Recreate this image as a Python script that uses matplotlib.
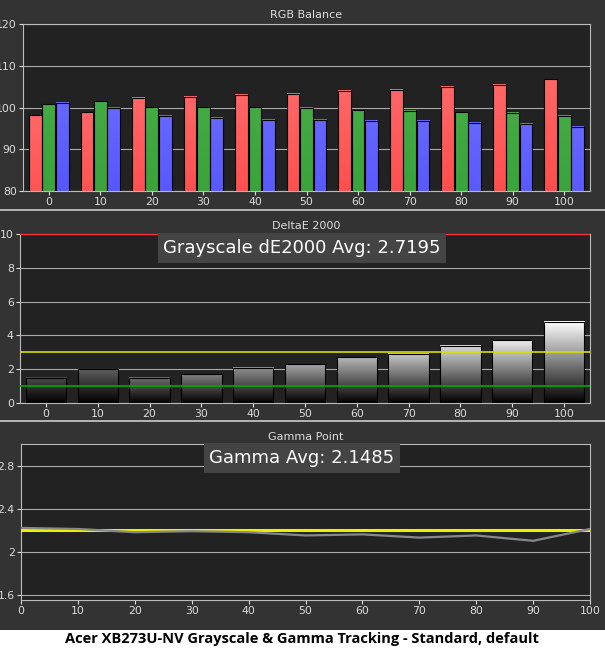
import matplotlib
matplotlib.use("Agg")
import matplotlib.pyplot as plt
import numpy as np
from matplotlib.colors import LinearSegmentedColormap

levels = [0, 10, 20, 30, 40, 50, 60, 70, 80, 90, 100]
red = [98.2, 98.9, 102.3, 102.6, 103.1, 103.3, 104.0, 104.3, 105.0, 105.4, 106.8]
green = [100.8, 101.5, 100.1, 100.1, 100.1, 99.9, 99.4, 99.2, 98.9, 98.7, 98.0]
blue = [101.1, 99.9, 98.0, 97.5, 97.1, 97.1, 96.8, 96.8, 96.3, 96.1, 95.4]
de = [1.5, 2.0, 1.5, 1.7, 2.1, 2.3, 2.7, 2.9, 3.4, 3.7, 4.8]
gamma = [2.22, 2.21, 2.18, 2.19, 2.18, 2.15, 2.16, 2.13, 2.15, 2.10, 2.21]
gamma_target = 2.2

BG = "#333333"; AX = "#222222"; TXT = "#dddddd"
fig = plt.figure(figsize=(6.05, 6.52), dpi=100, facecolor=BG)
W, H = 605, 652
def ax_at(x0, y0, x1, y1):
    a = fig.add_axes([x0 / W, 1 - y1 / H, (x1 - x0) / W, (y1 - y0) / H])
    a.set_facecolor(AX)
    for s in a.spines.values():
        s.set_color("#bbbbbb")
    a.tick_params(colors=TXT, labelsize=7.8, length=3, pad=1.5)
    a.set_axisbelow(True)
    return a

def grad_fill(ax, b, c_top, c_bot):
    cmap = LinearSegmentedColormap.from_list("g", [c_bot, c_top])
    grad = np.linspace(0, 1, 128).reshape(-1, 1)
    x, y, w, h = b.get_x(), b.get_y(), b.get_width(), b.get_height()
    ax.imshow(grad, cmap=cmap, origin="lower", aspect="auto",
              extent=[x, x + w, y, y + h], zorder=2)
    b.set_facecolor("none"); b.set_zorder(3)

# Top
a1 = ax_at(23, 24, 590, 191)
x = np.arange(len(levels))
bw = 0.26
cols = [(red, "#ff6666", "#ff0000"), (green, "#44aa44", "#118811"), (blue, "#6666ff", "#1a1aff")]
for i, (vals, ct, cb) in enumerate(cols):
    bars = a1.bar(x + (i - 1) * bw, vals, bw * 0.95, bottom=0, edgecolor="black", linewidth=0.8)
    for b in bars:
        grad_fill(a1, b, ct, cb)
a1.set_ylim(80, 120); a1.set_xlim(-0.5, len(levels) - 0.5)
a1.set_yticks([80, 90, 100, 110, 120])
a1.set_xticks(x); a1.set_xticklabels(levels)
a1.yaxis.grid(True, color="#aaaaaa", lw=0.8)
fig.text(306 / W, 1 - 15 / H, "RGB Balance", color=TXT, fontsize=8, ha="center", va="center")

fig.add_artist(plt.Line2D([0, 1], [1 - 210 / H] * 2, color="#cccccc", lw=1.2))
fig.add_artist(plt.Line2D([0, 1], [1 - 421 / H] * 2, color="#cccccc", lw=1.2))

# Middle
a2 = ax_at(20, 234, 590, 403)
bars = a2.bar(x, de, 0.78, edgecolor="black", linewidth=0.8)
for i, b in enumerate(bars):
    shade = 0.3 + 0.7 * i / (len(de) - 1)
    grad_fill(a2, b, (shade, shade, shade), (0, 0, 0))
a2.axhline(10, color="#ff3333", lw=1.5, zorder=4)
a2.axhline(3, color="#dddd00", lw=1.2, zorder=4)
a2.axhline(1, color="#00aa00", lw=1.2, zorder=4)
a2.set_ylim(0, 10); a2.set_xlim(-0.5, len(levels) - 0.5)
a2.set_yticks([0, 2, 4, 6, 8, 10])
a2.set_xticks(x); a2.set_xticklabels(levels)
a2.yaxis.grid(True, color="#aaaaaa", lw=0.8)
fig.text(306 / W, 1 - 226 / H, "DeltaE 2000", color=TXT, fontsize=8, ha="center", va="center")
fig.text(302 / W, 1 - 248 / H, "Grayscale dE2000 Avg: 2.7195", color="white", fontsize=13,
         ha="center", va="center", bbox=dict(facecolor="#444444", edgecolor="none", pad=4))

# Bottom
a3 = ax_at(21, 444, 590, 600)
a3.plot(levels, [gamma_target] * len(levels), color="#eeee00", lw=2.2, zorder=3)
a3.plot(levels, gamma, color="#888888", lw=1.6, zorder=4)
a3.set_ylim(1.55, 3.0); a3.set_xlim(0, 100)
a3.set_yticks([1.6, 2.0, 2.4, 2.8]); a3.set_yticklabels(["1.6", "2", "2.4", "2.8"])
a3.set_xticks(levels)
a3.yaxis.grid(True, color="#aaaaaa", lw=0.8)
fig.text(306 / W, 1 - 437 / H, "Gamma Point", color=TXT, fontsize=8, ha="center", va="center")
fig.text(302 / W, 1 - 458 / H, "Gamma Avg: 2.1485", color="white", fontsize=13,
         ha="center", va="center", bbox=dict(facecolor="#444444", edgecolor="none", pad=4))

fig.patches.append(plt.Rectangle((0, 0), 1, 22 / H, transform=fig.transFigure,
                                 facecolor="white", edgecolor="none", zorder=-1))
fig.text(302 / W, 1 - 639 / H, "Acer XB273U-NV Grayscale & Gamma Tracking - Standard, default",
         color="black", fontsize=10.5, fontweight="bold", ha="center", va="center",
         family="Open Sans")
fig.savefig("out.png", dpi=100, facecolor=BG)
